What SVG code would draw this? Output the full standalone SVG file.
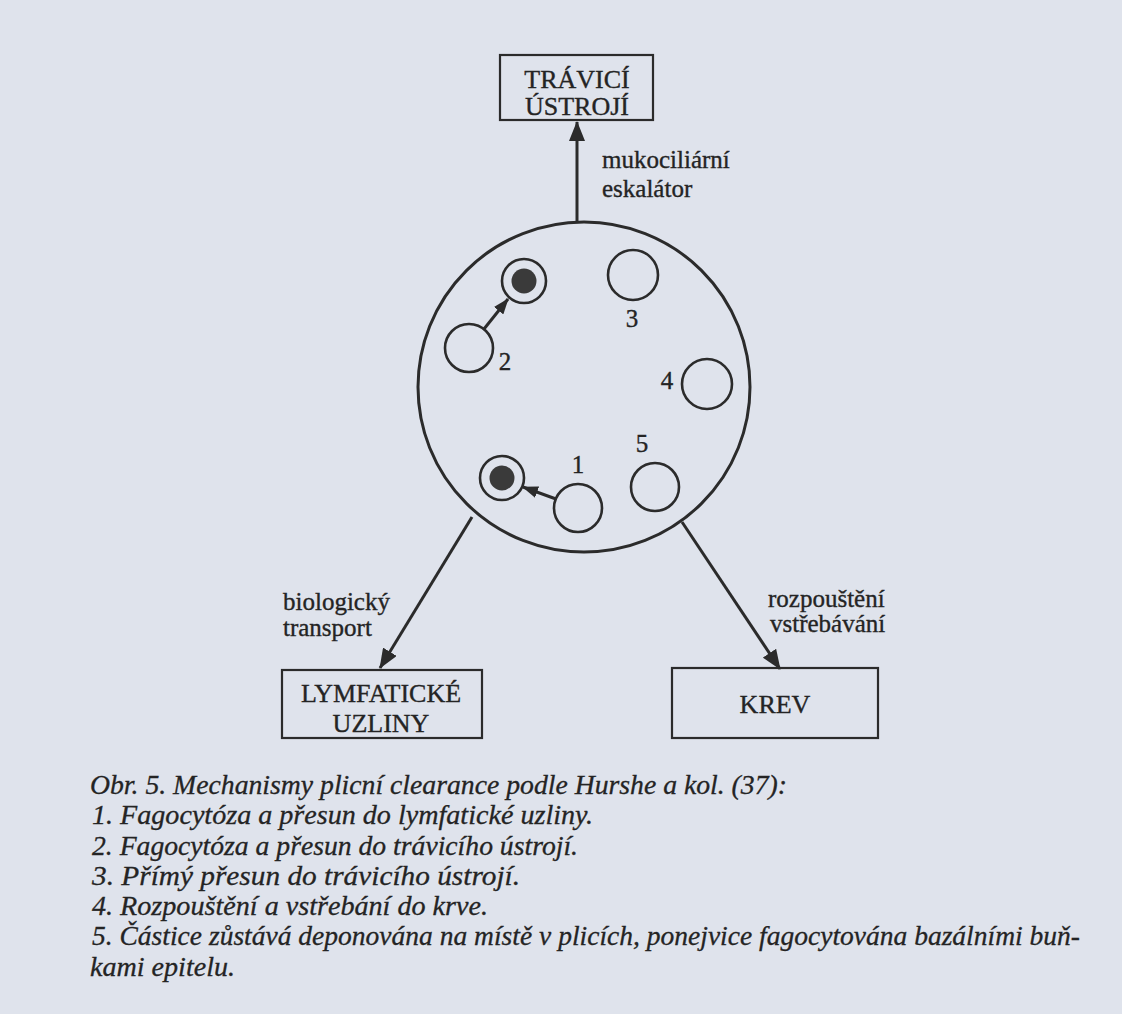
<svg xmlns="http://www.w3.org/2000/svg" width="1122" height="1014" viewBox="0 0 1122 1014">
  <defs>
    <marker id="arr" viewBox="0 0 20 16" refX="19" refY="8" markerWidth="20" markerHeight="16" markerUnits="userSpaceOnUse" orient="auto">
      <path d="M0,0 L20,8 L0,16 Z" fill="#2b2b2b"/>
    </marker>
    <marker id="arrS" viewBox="0 0 16 12" refX="15" refY="6" markerWidth="16" markerHeight="12" markerUnits="userSpaceOnUse" orient="auto">
      <path d="M0,0 L16,6 L0,12 Z" fill="#2b2b2b"/>
    </marker>
    <style>
      .lbl { font-family: "Liberation Serif", "Times New Roman", serif; fill: #242424; stroke: #242424; stroke-width: 0.35; }
      .box { fill: none; stroke: #2b2b2b; stroke-width: 2.2; }
      .cell { fill: none; stroke: #2b2b2b; stroke-width: 2.6; }
      .dot { fill: #3a3a3a; }
      .conn { fill: none; stroke: #2b2b2b; stroke-width: 3; }
      .cap { font-family: "Liberation Serif", "Times New Roman", serif; font-style: italic; font-size: 27px; fill: #242424; stroke: #242424; stroke-width: 0.3; }
    </style>
  </defs>
  <rect width="1122" height="1014" fill="#dfe3ec"/>

  <g id="connectors">
    <line class="conn" x1="577" y1="222" x2="577" y2="122" marker-end="url(#arr)"/>
    <line class="conn" x1="472" y1="517" x2="380" y2="668" marker-end="url(#arr)"/>
    <line class="conn" x1="682" y1="522" x2="780" y2="669" marker-end="url(#arr)"/>
    <line class="conn" stroke-width="2.4" x1="484" y1="329" x2="508" y2="299" marker-end="url(#arrS)"/>
    <line class="conn" stroke-width="2.4" x1="556" y1="499" x2="523" y2="487" marker-end="url(#arrS)"/>
  </g>

  <g id="travici-ustroji">
    <rect class="box" x="500" y="55" width="153" height="65"/>
    <text class="lbl" x="577" y="88" font-size="26" text-anchor="middle">TRÁVICÍ</text>
    <text class="lbl" x="577" y="115" font-size="26" text-anchor="middle">ÚSTROJÍ</text>
  </g>

  <g id="label-mukociliarni">
    <text class="lbl" x="602" y="168" font-size="25">mukociliární</text>
    <text class="lbl" x="602" y="197" font-size="25">eskalátor</text>
  </g>

  <g id="plice">
    <ellipse cx="584" cy="387" rx="166" ry="165" fill="none" stroke="#2b2b2b" stroke-width="3"/>
  </g>

  <g id="mechanism-2">
    <circle class="cell" cx="524" cy="281" r="22"/>
    <circle class="dot" cx="524" cy="281" r="12.5"/>
    <circle class="cell" cx="469" cy="348" r="24"/>
    <text class="lbl" x="505" y="370" font-size="25" text-anchor="middle">2</text>
  </g>

  <g id="mechanism-3">
    <circle class="cell" cx="633" cy="275" r="25"/>
    <text class="lbl" x="632" y="327" font-size="25" text-anchor="middle">3</text>
  </g>

  <g id="mechanism-4">
    <circle class="cell" cx="707" cy="384" r="25"/>
    <text class="lbl" x="667" y="389" font-size="25" text-anchor="middle">4</text>
  </g>

  <g id="mechanism-5">
    <circle class="cell" cx="655" cy="487" r="24"/>
    <text class="lbl" x="642" y="452" font-size="25" text-anchor="middle">5</text>
  </g>

  <g id="mechanism-1">
    <circle class="cell" cx="502" cy="478" r="22"/>
    <circle class="dot" cx="502" cy="478" r="12.5"/>
    <circle class="cell" cx="578" cy="508" r="24"/>
    <text class="lbl" x="578" y="473" font-size="25" text-anchor="middle">1</text>
  </g>

  <g id="label-biologicky">
    <text class="lbl" x="283" y="610" font-size="25">biologický</text>
    <text class="lbl" x="283" y="636" font-size="25">transport</text>
  </g>

  <g id="label-rozpousteni">
    <text class="lbl" x="768" y="607" font-size="25">rozpouštění</text>
    <text class="lbl" x="770" y="632" font-size="25">vstřebávání</text>
  </g>

  <g id="lymfaticke-uzliny">
    <rect class="box" x="282" y="670" width="200" height="68"/>
    <text class="lbl" x="381" y="702" font-size="26" text-anchor="middle">LYMFATICKÉ</text>
    <text class="lbl" x="381" y="732" font-size="26" text-anchor="middle">UZLINY</text>
  </g>

  <g id="krev">
    <rect class="box" x="672" y="668" width="206" height="70"/>
    <text class="lbl" x="775" y="713" font-size="26" text-anchor="middle">KREV</text>
  </g>

  <g id="caption">
    <text class="cap" x="90" y="794" textLength="697" lengthAdjust="spacingAndGlyphs">Obr. 5. Mechanismy plicní clearance podle Hurshe a kol. (37):</text>
    <text class="cap" x="92" y="824" textLength="501" lengthAdjust="spacingAndGlyphs">1. Fagocytóza a přesun do lymfatické uzliny.</text>
    <text class="cap" x="92" y="855" textLength="486" lengthAdjust="spacingAndGlyphs">2. Fagocytóza a přesun do trávicího ústrojí.</text>
    <text class="cap" x="92" y="885" textLength="428" lengthAdjust="spacingAndGlyphs">3. Přímý přesun do trávicího ústrojí.</text>
    <text class="cap" x="92" y="915" textLength="396" lengthAdjust="spacingAndGlyphs">4. Rozpouštění a vstřebání do krve.</text>
    <text class="cap" x="92" y="945" textLength="988" lengthAdjust="spacingAndGlyphs">5. Částice zůstává deponována na místě v plicích, ponejvice fagocytována bazálními buň-</text>
    <text class="cap" x="90" y="976" textLength="145" lengthAdjust="spacingAndGlyphs">kami epitelu.</text>
  </g>
</svg>
